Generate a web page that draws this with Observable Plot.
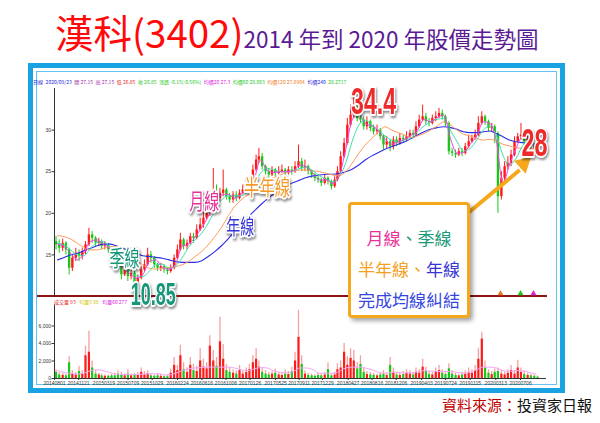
<!DOCTYPE html>
<html><head><meta charset="utf-8">
<script src="https://cdn.jsdelivr.net/npm/d3@7"></script>
<script src="https://cdn.jsdelivr.net/npm/@observablehq/plot@0.6"></script>
<style>
html,body{margin:0;padding:0;background:#fff;}
#wrap{position:relative;width:600px;height:423px;overflow:hidden;background:#fff;font-family:"Noto Sans CJK TC","Noto Sans",sans-serif;}
.abs{position:absolute;}
#title{left:55px;top:12px;white-space:nowrap;line-height:1;}
#title .main{color:#ff0a0a;font-size:38.5px;}
#title .sub{color:#5a1a94;font-size:22.5px;}
#frame{left:28px;top:63px;width:537px;height:330px;box-sizing:border-box;border:5px solid #1aa3e2;}
#frame2{left:36px;top:71px;width:521px;height:314px;box-sizing:border-box;border:1px solid #62c3ef;}
#hdr{left:33px;top:79px;font-size:5px;white-space:nowrap;line-height:6px;z-index:4}
#hdr span{margin-right:2.6px}
#vhdr span{margin-right:3.5px}
#vhdr{left:54px;top:299px;font-size:5px;white-space:nowrap;line-height:6px;z-index:4}
#sep{left:37px;top:295px;width:510px;height:1.5px;background:#8b1414;z-index:1}
#price{left:0;top:80px;z-index:3}
#vol{left:0;top:298px;z-index:2}
#box{left:348px;top:202px;width:122px;height:116px;box-sizing:border-box;border:3px solid #f5a81c;border-radius:4px;background:#fff;box-shadow:3px 3px 4px rgba(0,0,0,.35);z-index:5;text-align:center;font-size:17px;line-height:31px;padding-top:17px;white-space:nowrap}
#src{right:8px;top:396px;font-size:15px;white-space:nowrap;line-height:1.2}
</style></head>
<body><div id="wrap">
<div id="title" class="abs"><span class="main">漢科(3402)</span><span class="sub">2014 年到 2020 年股價走勢圖</span></div>
<div id="frame" class="abs"></div>
<div id="frame2" class="abs"></div>
<div id="sep" class="abs"></div>
<div id="hdr" class="abs"></div>
<div id="vhdr" class="abs"></div>
<div id="price" class="abs"></div>
<div id="vol" class="abs"></div>
<div id="box" class="abs">
<div><span style="color:#e8309a">月線</span><span style="color:#1a9a78">、季線</span></div>
<div><span style="color:#f5a01e">半年線、</span><span style="color:#3535d5">年線</span></div>
<div style="color:#3545e0">完成均線糾結</div>
</div>
<div id="src" class="abs"><span style="color:#c00000">資料來源：</span><span style="color:#111">投資家日報</span></div>
</div>
<script>
const months = ["2014-08","2014-09","2014-10","2014-11","2014-12",
"2015-01","2015-02","2015-03","2015-04","2015-05","2015-06","2015-07","2015-08","2015-09","2015-10","2015-11","2015-12",
"2016-01","2016-02","2016-03","2016-04","2016-05","2016-06","2016-07","2016-08","2016-09","2016-10","2016-11","2016-12",
"2017-01","2017-02","2017-03","2017-04","2017-05","2017-06","2017-07","2017-08","2017-09","2017-10","2017-11","2017-12",
"2018-01","2018-02","2018-03","2018-04","2018-05","2018-06","2018-07","2018-08","2018-09","2018-10","2018-11","2018-12",
"2019-01","2019-02","2019-03","2019-04","2019-05","2019-06","2019-07","2019-08","2019-09","2019-10","2019-11","2019-12",
"2020-01","2020-02","2020-03","2020-04","2020-05","2020-06","2020-07","2020-08","2020-09"];

// half-month candles (two per month)
const open = [16.6,16.2,15.8,16.4,15.6,13.4,14.6,15.2,14.8,15.4,
16.2,17.4,17.0,16.4,16.6,16.0,16.2,15.6,15.2,14.6,
13.6,12.6,13.2,12.4,12.8,11.6,12.2,13.2,13.8,15.0,
14.6,13.8,13.4,13.6,13.2,13.0,13.4,14.6,15.6,16.8,
16.0,16.4,17.2,17.0,18.0,18.6,19.4,20.0,21.2,22.6,
21.8,22.4,22.8,22.0,21.6,22.2,21.8,22.4,22.8,23.0,
23.2,25.2,26.4,26.8,25.6,25.0,24.6,25.2,24.8,25.0,
25.2,24.8,25.2,25.0,25.6,26.2,25.4,25.6,25.0,24.6,
24.2,24.0,23.6,24.2,23.8,23.2,24.0,25.0,26.8,28.4,
30.6,31.8,32.6,31.4,31.2,30.4,31.0,30.2,29.8,30.0,
29.2,28.2,28.6,28.0,28.8,28.4,29.0,28.8,29.2,29.6,
29.4,30.4,31.2,31.6,31.0,30.8,31.4,31.6,32.0,31.6,
30.8,27.4,27.2,27.0,27.4,27.2,28.0,28.6,29.0,29.4,
30.8,31.6,31.0,30.2,30.4,29.6,22.0,24.2,25.6,26.0,
27.0,28.6,29.2,29.4,28.6,29.0,28.2,27.6];
const close = [16.2,15.8,16.4,15.6,13.4,14.6,15.2,14.8,15.4,16.2,
17.4,17.0,16.4,16.6,16.0,16.2,15.6,15.2,14.6,13.6,
12.6,13.2,12.4,12.8,11.6,12.2,13.2,13.8,15.0,14.6,
13.8,13.4,13.6,13.2,13.0,13.4,14.6,15.6,16.8,16.0,
16.4,17.2,17.0,18.0,18.6,19.4,20.0,21.2,22.6,21.8,
22.4,22.8,22.0,21.6,22.2,21.8,22.4,22.8,23.0,23.2,
25.2,26.4,26.8,25.6,25.0,24.6,25.2,24.8,25.0,25.2,
24.8,25.2,25.0,25.6,26.2,25.4,25.6,25.0,24.6,24.2,
24.0,23.6,24.2,23.8,23.2,24.0,25.0,26.8,28.4,30.6,
31.8,32.6,31.4,31.2,30.4,31.0,30.2,29.8,30.0,29.2,
28.2,28.6,28.0,28.8,28.4,29.0,28.8,29.2,29.6,29.4,
30.4,31.2,31.6,31.0,30.8,31.4,31.6,32.0,31.6,30.8,
27.4,27.2,27.0,27.4,27.2,28.0,28.6,29.0,29.4,30.8,
31.6,31.0,30.2,30.4,29.6,22.0,24.2,25.6,26.0,27.0,
28.6,29.2,29.4,28.6,29.0,28.2,27.6,26.85];
const high = [17.2,16.8,16.9,16.6,15.8,15.0,15.8,15.6,15.8,16.6,
18.2,17.8,17.2,17.0,16.8,16.6,16.4,15.8,15.4,14.8,
13.8,13.8,13.4,13.2,13.0,12.6,13.6,14.4,15.8,15.4,
14.8,14.0,14.0,13.8,13.4,13.8,15.0,16.2,17.6,17.0,
16.8,17.6,17.6,18.6,19.4,20.2,20.8,22.4,25.4,23.4,
23.0,25.2,23.0,22.4,22.6,22.6,22.8,23.4,23.6,23.8,
25.8,27.0,27.8,27.2,25.8,25.4,25.6,25.4,25.6,25.8,
25.4,25.6,25.6,26.2,28.2,26.6,26.4,25.8,25.2,24.8,
24.6,24.2,24.6,24.4,24.0,24.4,25.6,27.4,29.0,31.4,
33.0,34.4,33.0,32.2,31.6,31.6,31.2,30.6,30.6,30.2,
29.4,29.2,28.8,29.2,29.2,29.6,29.4,29.8,30.0,30.0,
31.0,31.8,33.0,32.0,31.4,31.8,32.2,32.6,32.4,31.8,
31.0,27.8,27.6,27.8,27.8,28.4,29.4,29.4,30.0,31.6,
32.2,31.8,31.2,30.8,30.6,29.8,25.0,26.2,26.8,27.6,
29.2,29.6,30.8,29.6,29.4,29.2,28.4,27.8];
const low = [15.6,15.2,15.4,15.0,12.6,13.0,14.2,14.2,14.4,15.0,
16.0,16.4,16.0,16.0,15.6,15.6,15.2,14.8,14.0,13.2,
12.0,12.4,11.8,12.0,11.2,10.85,12.0,13.0,13.6,14.0,
13.4,13.0,13.0,12.8,12.6,12.8,13.2,14.4,15.4,15.6,
15.6,16.2,16.4,16.8,17.8,18.2,19.2,19.6,21.0,21.2,
21.4,22.0,21.6,21.2,21.2,21.4,21.6,22.2,22.4,22.8,
23.0,25.0,26.0,25.2,24.6,24.2,24.4,24.4,24.6,24.8,
24.4,24.6,24.6,24.8,25.4,25.0,25.0,24.6,24.2,23.8,
23.6,23.2,23.4,23.4,22.8,23.0,23.8,24.8,26.6,28.2,
30.4,31.4,31.0,30.8,30.0,30.0,29.8,29.4,29.4,28.8,
27.6,27.8,27.4,27.6,28.0,28.2,28.4,28.6,29.0,29.0,
29.2,30.2,31.0,30.6,30.4,30.6,31.0,31.4,31.2,30.4,
27.0,26.8,26.6,26.8,26.8,27.0,27.8,28.4,28.8,29.2,
30.6,30.6,29.8,29.8,28.4,20.0,21.6,23.8,25.2,25.6,
26.8,28.4,28.8,28.2,28.4,27.8,27.2,26.8];
const volume = [700,400,350,300,1800,500,400,800,500,2600,
3000,1200,500,400,300,250,250,300,300,500,
400,300,500,300,350,400,700,400,500,300,
250,300,250,200,200,600,1500,900,2600,1000,
700,1500,900,800,2000,1300,1100,3700,2000,1400,
4200,2200,900,700,600,500,900,500,700,1000,
1800,2200,1300,700,500,400,500,600,400,350,
500,450,800,2000,4700,1600,500,350,300,250,
350,300,400,1000,300,400,1000,1200,3000,1500,
2300,2000,1100,1600,700,450,400,350,300,400,
500,350,1500,700,400,350,450,600,500,400,
700,600,1300,800,450,400,700,900,600,450,
1100,500,350,300,400,500,700,600,900,2200,
4500,1200,600,450,700,800,500,400,600,900,
500,1200,700,450,350,300,250,150];
const volumePeak = [1000,700,600,500,2500,900,700,1400,900,3700,
5400,2000,900,600,500,400,400,500,600,900,
700,500,1000,500,600,700,1200,800,900,500,
400,600,500,300,400,1100,2400,1500,3800,1800,
1200,2400,1600,1400,3400,2200,1800,4900,3200,2400,
7000,3900,1600,1200,1000,900,1500,800,1200,1600,
2600,3400,2000,1200,900,700,800,1100,700,600,
1000,800,1300,3000,7800,2600,900,600,500,400,
600,500,700,1800,500,700,1700,2000,4000,2500,
3400,3200,1800,2600,1200,800,700,600,500,700,
900,600,2400,1200,700,600,800,1000,900,700,
1200,1000,2200,1300,800,700,1200,1500,1000,800,
1700,900,600,500,700,900,1200,1000,1500,3400,
5300,2000,1000,800,1100,1200,900,700,1000,1500,
900,2100,1200,800,600,500,400,300];

// monthly moving averages
const ma20 = [16.3,16.0,15.2,14.4,15.2,16.6,16.8,16.3,15.8,14.8,
13.4,12.8,12.2,12.6,14.2,14.4,13.5,13.3,13.9,16.0,
16.3,17.1,18.3,19.6,21.6,22.2,22.3,21.8,22.3,22.9,
24.2,26.4,25.2,24.9,25.0,25.0,25.1,25.8,25.6,24.8,
24.0,24.0,23.6,24.4,27.6,31.2,32.0,30.8,30.5,29.9,
28.9,28.3,28.6,28.9,29.4,30.0,31.3,31.0,31.5,31.8,
29.0,27.2,27.3,28.3,29.3,31.0,30.8,28.8,23.6,25.8,
27.8,29.2,28.8,27.6];
const ma60 = [16.4,16.2,15.6,15.0,14.9,15.8,16.5,16.6,16.0,15.3,
14.2,13.2,12.5,12.4,13.0,13.8,13.9,13.4,13.7,14.6,
15.9,16.8,17.6,18.8,20.3,21.6,22.1,22.1,22.1,22.6,
23.6,24.8,25.4,25.2,25.0,25.0,25.1,25.4,25.5,25.1,
24.5,24.1,23.8,24.4,26.0,28.6,30.6,31.2,30.6,30.0,
29.3,28.8,28.6,28.8,29.1,29.8,30.5,31.0,31.3,31.4,
30.0,28.6,27.5,27.8,28.8,30.0,30.5,29.4,27.0,25.8,
26.6,28.1,28.8,28.1];
const ma120 = [17.3,17.2,16.9,16.4,15.9,15.6,15.6,15.8,16.0,16.0,
15.6,15.0,14.4,13.8,13.4,13.3,13.4,13.5,13.6,13.8,
14.2,14.8,15.4,16.2,17.2,18.3,19.6,20.8,21.6,22.2,
22.6,23.2,23.8,24.3,24.6,24.9,25.1,25.2,25.2,25.1,
25.0,24.8,24.6,24.5,25.0,26.0,27.2,28.2,29.0,29.8,
30.4,30.0,29.7,29.4,29.1,29.3,29.6,30.0,30.5,31.0,
30.6,30.0,29.5,29.3,29.0,28.8,28.9,28.7,28.3,28.1,
27.9,27.8,27.8,27.7];
const ma240 = [14.4,14.7,15.0,15.2,15.5,15.8,16.1,16.3,16.3,16.1,
15.8,15.5,15.2,14.9,14.8,14.7,14.6,14.4,14.2,14.1,
14.1,14.1,14.3,14.8,15.4,16.1,16.9,17.8,18.7,19.5,
20.3,21.0,21.7,22.3,22.8,23.3,23.7,24.0,24.3,24.5,
24.6,24.7,24.7,24.8,25.0,25.3,25.8,26.4,26.9,27.3,
27.7,28.0,28.3,28.6,29.0,29.4,29.8,30.1,30.3,30.4,
30.3,30.1,29.8,29.7,29.7,29.8,29.9,29.6,29.2,28.8,
28.6,28.5,28.4,28.3];
const volMA60 = [900,700,600,500,600,900,1000,900,700,500,
450,450,450,500,550,550,450,400,600,900,
1100,1200,1250,1300,1300,1300,1300,1200,1000,900,
1100,1250,1200,900,700,650,800,1200,1200,1000,
600,600,600,800,1200,1300,1300,1200,1000,700,
600,700,700,650,650,750,900,850,800,800,
800,700,600,700,1000,1300,1300,1200,900,800,
900,900,700,500];

const tickDates = ["2014-08-01","2014-11-21","2015-03-19","2015-07-09","2015-10-29","2016-02-24","2016-06-16","2016-10-06",
"2017-01-26","2017-05-25","2017-09-11","2017-12-29","2018-04-27","2018-08-16","2018-12-06","2019-04-03","2019-07-24",
"2019-11-15","2020-03-13","2020-07-06"];
const priceTicks = [15,20,25,30];
const volumeTicks = [0,2000,4000,6000];

const noteLabels = ["34.4","28","10.85","季線","月線","半年線","年線"];
const noteDates  = ["2018-08-23","2020-09-09","2015-11-03","2015-06-22","2016-06-27","2017-04-15","2016-12-11"];
const notePrices = [33.3,28.3,10.15,14.5,21.4,23.0,18.3];
const signalDates = ["2020-04-04","2020-07-06","2020-09-04"];
const arrowFromDate = "2019-11-08", arrowFromPrice = 20.1;
const arrowToDate = "2020-07-02", arrowToPrice = 25.2;
const arrowTipDate = "2020-07-20", arrowTipPrice = 25.95;

const headerItems = [["日線","#2424d8"],["2020/09/23","#2424d8"],["開 27.15","#9b1aa8"],["高 27.15","#9b1aa8"],["低 26.85","#e0281e"],["收 26.85","#1ec81e"],["漲跌 -0.15(-0.56%)","#1ec81e"],["均價20 27.3","#e020e0"],["均價60 28.083","#1ec81e"],["均價120 27.6904","#f07820"],["均價240","#2424d8"],["28.2717","#1ec81e"]];
const volHeaderItems = [["成交量 93","#e02020"],["均量5 98","#d8c000"],["均量60 277","#e020e0"]];

// ---- build
const parse = d3.utcParse("%Y-%m-%d");
const candles = close.map((c,i)=>({date: parse(months[i>>1] + (i%2 ? "-23" : "-08")), open: open[i], high: high[i], low: low[i], close: c, vol: volume[i], peak: volumePeak[i]}));
const maRows = months.map((m,i)=>({date: parse(m + "-15"), ma20: ma20[i], ma60: ma60[i], ma120: ma120[i], ma240: ma240[i], vma: volMA60[i]}));
const xDomain = [parse("2014-08-01"), parse("2020-10-30")];
const updown = d => d.close >= d.open ? "#ff1a1a" : "#18c818";

const noteStyle = {
  "34.4": {fill:"#ee2a2a", size:36, weight:"bold", len:45, font:"Liberation Sans, Arial, sans-serif"},
  "28":   {fill:"#ee2a2a", size:38, weight:"bold", len:26, font:"Liberation Sans, Arial, sans-serif"},
  "10.85":{fill:"#17977a", size:31, weight:"bold", len:45, font:"Liberation Sans, Arial, sans-serif"},
  "季線": {fill:"#17977a", size:22, weight:"normal", len:30, font:"Noto Sans CJK TC, sans-serif"},
  "月線": {fill:"#e8309a", size:22, weight:"normal", len:30, font:"Noto Sans CJK TC, sans-serif"},
  "半年線":{fill:"#f59a2a", size:22, weight:"normal", len:46, font:"Noto Sans CJK TC, sans-serif"},
  "年線": {fill:"#3535d8", size:21, weight:"normal", len:28, font:"Noto Sans CJK TC, sans-serif"}
};
const noteMarks = noteLabels.map((lab,i)=>{
  const s = noteStyle[lab];
  return Plot.text([i], {x: j=>parse(noteDates[j]), y: j=>notePrices[j], text: j=>noteLabels[j],
    fill: s.fill, fontSize: s.size, fontWeight: s.weight, fontFamily: s.font,
    stroke: "white", strokeWidth: 4, strokeLinejoin: "round", paintOrder: "stroke"});
});

const baseStyle = {background:"transparent", overflow:"visible", fontSize:"5px", fontFamily:"Liberation Sans, Arial, sans-serif", color:"#333"};

const pricePlot = Plot.plot({
  width: 600, height: 218, marginLeft: 54, marginRight: 55, marginTop: 8, marginBottom: 2,
  style: baseStyle,
  x: {type: "utc", domain: xDomain, axis: null},
  y: {domain: [10, 35], ticks: priceTicks, tickSize: 2.5, tickPadding: 1, line: true, label: null, tickFormat: d => String(d)},
  marks: [
    Plot.ruleX(candles, {x: "date", y1: "low", y2: "high", stroke: updown, strokeWidth: 1}),
    Plot.ruleX(candles, {x: "date", y1: "open", y2: "close", stroke: updown, strokeWidth: 2.4}),
    Plot.line(maRows, {x: "date", y: "ma240", stroke: "#2d2de6", strokeWidth: 1.1, curve: "monotone-x"}),
    Plot.line(maRows, {x: "date", y: "ma120", stroke: "#ff9a5a", strokeWidth: 1, curve: "monotone-x"}),
    Plot.line(maRows, {x: "date", y: "ma60", stroke: "#3ce0a6", strokeWidth: 1, curve: "monotone-x"}),
    Plot.line(maRows, {x: "date", y: "ma20", stroke: "#ee44ee", strokeWidth: 1, curve: "monotone-x"}),
    Plot.dot(signalDates, {x: d => parse(d), frameAnchor: "bottom", dy: -3, symbol: "triangle", r: 2.2,
      fill: (d,i) => ["#f07820","#1ec81e","#e020e0"][i], stroke: null}),
    Plot.link([0], {x1: () => parse(arrowFromDate), y1: () => arrowFromPrice, x2: () => parse(arrowToDate), y2: () => arrowToPrice,
      stroke: "#f5a81c", strokeWidth: 4}),
    Plot.dot([0], {x: () => parse(arrowTipDate), y: () => arrowTipPrice, symbol: "triangle", r: 6.5, rotate: 48, fill: "#f5a81c", stroke: null}),
    ...noteMarks
  ]
});

const volPlot = Plot.plot({
  width: 600, height: 95, marginLeft: 54, marginRight: 55, marginTop: 6.5, marginBottom: 15,
  style: baseStyle,
  x: {type: "utc", domain: xDomain, ticks: tickDates.map(parse), tickFormat: d3.utcFormat("%Y%m%d"), tickSize: 2, tickPadding: 1, line: true, label: null},
  y: {domain: [0, 8400], ticks: volumeTicks, tickFormat: d3.format(","), tickSize: 2.5, tickPadding: 1, line: true, label: null},
  marks: [
    Plot.ruleX(candles, {x: "date", y: "peak", stroke: "#f6a0a0", strokeWidth: 1.3}),
    Plot.ruleX(candles, {x: "date", y: "vol", stroke: updown, strokeWidth: 2.2}),
    Plot.line(maRows, {x: "date", y: "vma", stroke: "#f2a6f2", strokeWidth: 1, curve: "monotone-x"})
  ]
});

document.getElementById("price").appendChild(pricePlot);
document.getElementById("vol").appendChild(volPlot);

// condense annotation labels and add shadow
d3.select(pricePlot).selectAll("text").each(function(){
  const s = noteStyle[this.textContent];
  if (s) {
    this.setAttribute("textLength", s.len);
    this.setAttribute("lengthAdjust", "spacingAndGlyphs");
    this.style.filter = "drop-shadow(1px 2px 1.2px rgba(0,0,0,0.45))";
  }
});

const hdr = d3.select("#hdr");
headerItems.forEach(([t,c]) => hdr.append("span").style("color", c).text(t));
const vhdr = d3.select("#vhdr");
volHeaderItems.forEach(([t,c]) => vhdr.append("span").style("color", c).text(t));
</script>
</body></html>
